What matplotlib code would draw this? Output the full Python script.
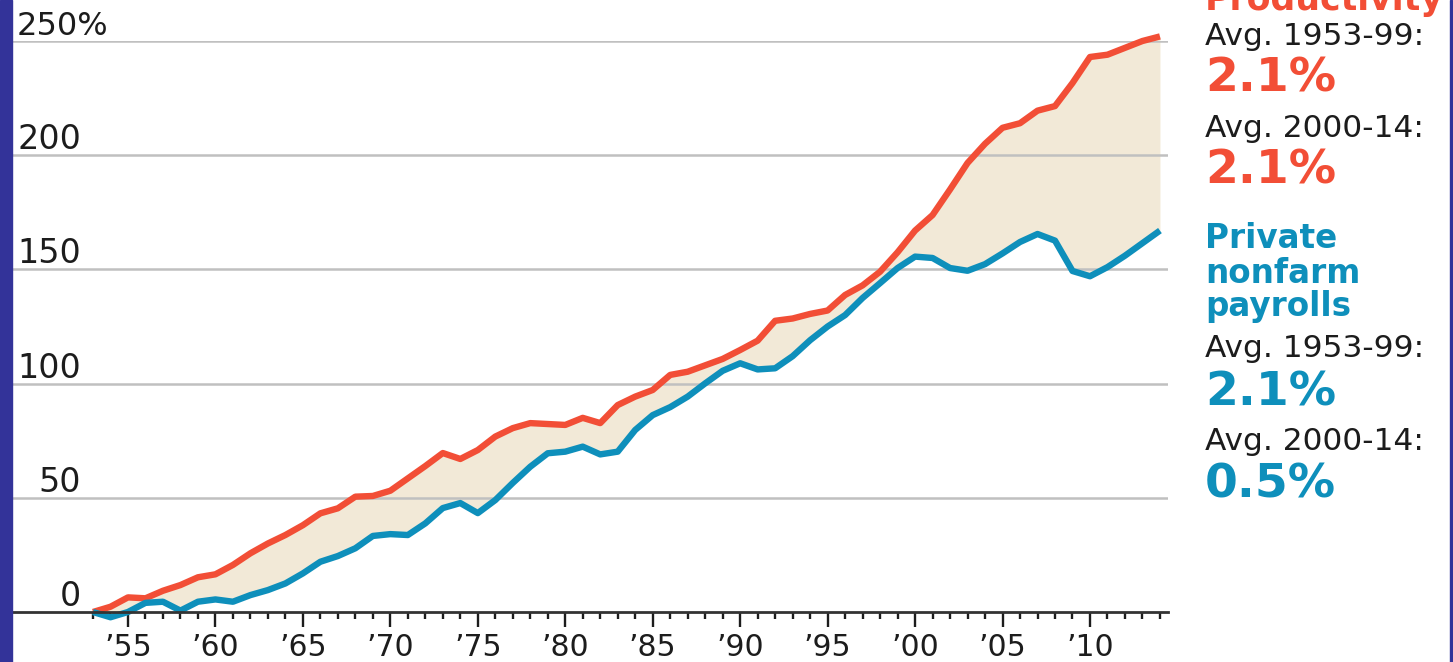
import matplotlib.pyplot as plt
from matplotlib.patches import Rectangle

years = list(range(1953, 2015))
productivity = [0, 2.3, 6.4, 6.0, 9.3, 11.8, 15.2, 16.5, 20.6, 25.7,
                30.0, 33.7, 38.0, 43.2, 45.4, 50.5, 50.8, 53.1, 58.5, 63.9,
                69.6, 67.0, 70.9, 76.8, 80.5, 82.7, 82.3, 81.9, 85.0, 82.7,
                90.6, 94.3, 97.2, 103.8, 105.2, 108.0, 110.8, 114.7, 118.8, 127.5,
                128.5, 130.5, 132.0, 138.8, 143.0, 149.0, 157.5, 167.0, 173.8, 185.0,
                196.6, 205.0, 212.0, 214.0, 219.5, 221.5, 231.6, 243.0, 244.0, 247.0,
                250.0, 252.0]
payrolls = [0, -2.3, 0, 4.0, 4.5, 0.6, 4.5, 5.5, 4.5, 7.4,
            9.6, 12.5, 16.9, 22.0, 24.5, 27.9, 33.3, 34.1, 33.7, 38.8,
            45.5, 47.7, 43.3, 49.0, 56.5, 63.6, 69.5, 70.2, 72.4, 69.0,
            70.2, 79.7, 86.2, 89.7, 94.3, 100.1, 105.6, 108.9, 106.2, 106.7,
            112.0, 119.0, 125.0, 130.0, 137.5, 144.0, 150.6, 155.6, 155.0, 150.6,
            149.4, 152.3, 157.0, 162.0, 165.5, 162.6, 149.3, 147.0, 151.0, 156.0,
            161.5, 167.0]
y_ticks = [0, 50, 100, 150, 200, 250]
y_labels = ["0", "50", "100", "150", "200", "250%"]
x_major = list(range(1955, 2011, 5))
x_labels = ["\u2019" + str(y)[2:] for y in x_major]

RED = "#f24e36"
BLUE = "#0e8fbb"
BEIGE = "#f2e9d7"
NAVY = "#333399"
INK = "#1c1c1c"

W, H = 1453, 662
fig = plt.figure(figsize=(W / 100, H / 100), dpi=100)
fig.patch.set_facecolor("white")

# axes placed so that 0 sits at y=612px and 250 at y=41px
ax = fig.add_axes([12 / W, (H - 612) / H, (1168 - 12) / W, (612 - 41) / H])
ax.set_xlim(1948.37, 2014.46)
ax.set_ylim(0, 250)
ax.patch.set_alpha(0)

ax.fill_between(years, payrolls, productivity, color=BEIGE, lw=0,
                zorder=1, clip_on=False)
for v in y_ticks[1:]:
    ax.axhline(v, color="#c0c0c0", lw=1.8, zorder=2)
ax.plot(years, productivity, color=RED, lw=4.6, zorder=3, clip_on=False,
        solid_joinstyle="round", solid_capstyle="butt")
ax.plot(years, payrolls, color=BLUE, lw=4.6, zorder=3, clip_on=False,
        solid_joinstyle="round", solid_capstyle="butt")

for s in ["top", "right", "left"]:
    ax.spines[s].set_visible(False)
ax.spines["bottom"].set_color("#333333")
ax.spines["bottom"].set_linewidth(2.0)
ax.spines["bottom"].set_zorder(4)

ax.set_yticks([])
ax.set_xticks(x_major)
ax.set_xticklabels(x_labels, fontsize=21.5, color=INK)
ax.set_xticks(years, minor=True)
ax.tick_params(axis="x", which="major", length=11, width=1.7, color=INK,
               direction="out", pad=4)
ax.tick_params(axis="x", which="minor", length=5, width=1.7, color=INK,
               direction="out")

ytr = ax.get_yaxis_transform()
for v, lab in zip(y_ticks, y_labels):
    if lab.endswith("%"):
        ax.annotate(lab, xy=(5 / 1156, v), xycoords=ytr, xytext=(0, 6),
                    textcoords="offset pixels", ha="left", va="baseline",
                    fontsize=23, color=INK)
    else:
        ax.annotate(lab, xy=(69 / 1156, v), xycoords=ytr, xytext=(0, 6),
                    textcoords="offset pixels", ha="right", va="baseline",
                    fontsize=24, color=INK)

# right-hand notes (baselines in pixels from the top)
notes = [
    ("Productivity", 10, RED, "bold", 25),
    ("Avg. 1953-99:", 45, INK, "normal", 22.5),
    ("2.1%", 92, RED, "bold", 34),
    ("Avg. 2000-14:", 137, INK, "normal", 22.5),
    ("2.1%", 183, RED, "bold", 34),
    ("Private", 248, BLUE, "bold", 23.5),
    ("nonfarm", 283, BLUE, "bold", 23.5),
    ("payrolls", 316, BLUE, "bold", 23.5),
    ("Avg. 1953-99:", 357, INK, "normal", 22.5),
    ("2.1%", 405, BLUE, "bold", 34),
    ("Avg. 2000-14:", 450, INK, "normal", 22.5),
    ("0.5%", 497, BLUE, "bold", 34),
]
for txt, base, col, wt, fs in notes:
    fig.text(1205 / W, (H - base) / H, txt, color=col, fontweight=wt,
             fontsize=fs, ha="left", va="baseline")

# frame pieces of the original graphic
fig.patches.append(Rectangle((0, 0), 12 / W, 1, transform=fig.transFigure,
                             color=NAVY, zorder=10))
fig.patches.append(Rectangle((1450 / W, 0), 2 / W, 1, transform=fig.transFigure,
                             color=NAVY, zorder=10))

fig.savefig("out.png", dpi=100)
